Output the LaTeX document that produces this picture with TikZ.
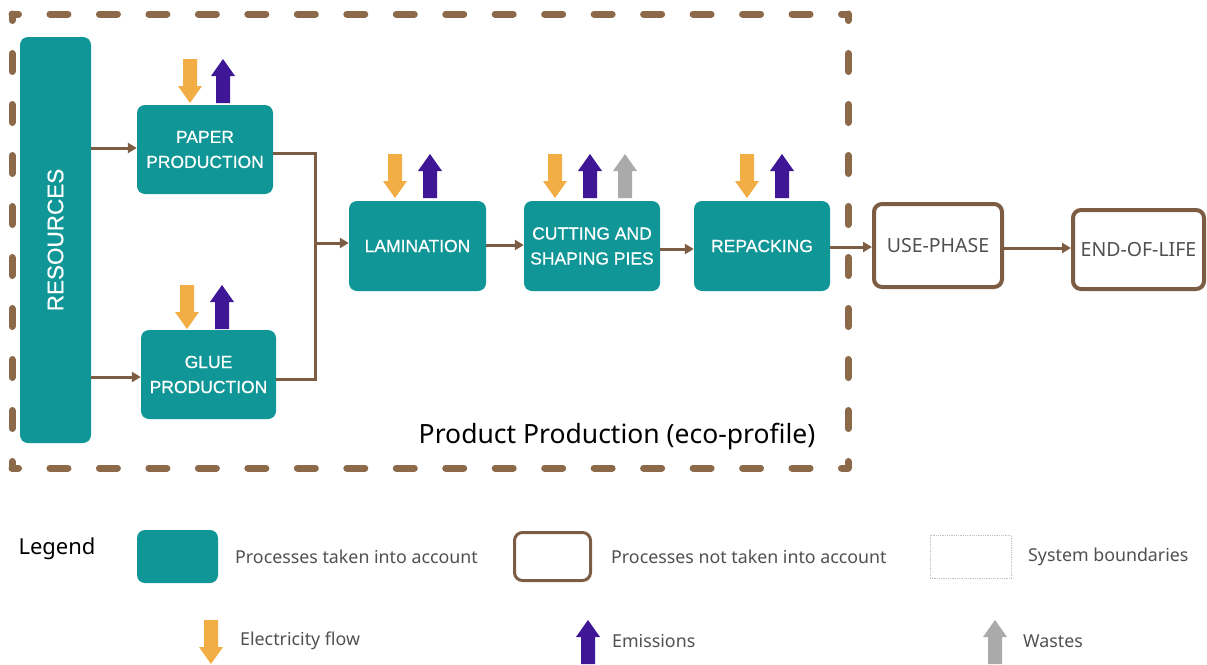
\documentclass[tikz,border=0pt]{standalone}
\usepackage{fontspec}
\setmainfont{Liberation Sans}
\newfontfamily\nsans{Noto Sans}
\newfontfamily\boxfont[FakeBold=0.6]{Liberation Sans}
\usetikzlibrary{arrows.meta}
\definecolor{tealc}{RGB}{16,150,150}
\definecolor{brownb}{RGB}{125,92,68}
\definecolor{brownd}{RGB}{139,105,73}
\definecolor{orangef}{RGB}{242,174,69}
\definecolor{purplef}{RGB}{62,22,150}
\definecolor{grayf}{RGB}{170,170,170}
\definecolor{txtgray}{RGB}{80,80,80}
\newcommand\flowdown[3]{\fill[#3] ({#1-7},#2) -- ({#1+7},#2) -- ({#1+7},{#2+27}) -- ({#1+12},{#2+27}) -- (#1,{#2+44}) -- ({#1-12},{#2+27}) -- ({#1-7},{#2+27}) -- cycle;}
\newcommand\flowup[3]{\fill[#3] ({#1-7},{#2+44}) -- ({#1+7},{#2+44}) -- ({#1+7},{#2+17}) -- ({#1+12},{#2+17}) -- (#1,#2) -- ({#1-12},{#2+17}) -- ({#1-7},{#2+17}) -- cycle;}
\tikzset{
  proc/.style={fill=tealc, rounded corners=8pt, text=white, align=center, inner sep=0pt,
    font=\boxfont\fontsize{17.5}{25}\selectfont},
  notproc/.style={draw=brownb, line width=4pt, fill=white, rounded corners=8pt, text=txtgray,
    align=center, inner sep=0pt, font=\nsans\fontsize{19.5}{22}\selectfont},
  conn/.style={draw=brownb, line width=3pt, -{Triangle[length=9pt,width=10pt]}},
  legtxt/.style={anchor=west, text=txtgray, inner sep=0pt, font=\nsans\fontsize{17.8}{20}\selectfont},
  bnd/.style={brownd, line width=7pt, line cap=round},
}
\begin{document}
\begin{tikzpicture}[x=1pt,y=-1pt]
\useasboundingbox (0,0) rectangle (1207,664);
% system boundary
\coordinate (b1) at (12,14);
\coordinate (b2) at (848,14);
\coordinate (b3) at (848,468);
\coordinate (b4) at (12,468);
\draw[bnd, dash pattern=on 18pt off 31.47pt, dash phase=11.5pt] (b1) -- (b2);
\draw[bnd, dash pattern=on 18pt off 31.47pt, dash phase=11.5pt] (b4) -- (b3);
\draw[bnd, dash pattern=on 18pt off 33pt, dash phase=11.5pt] (b1) -- (b4);
\draw[bnd, dash pattern=on 18pt off 33pt, dash phase=11.5pt] (b2) -- (b3);
% nodes
\node[proc, minimum width=71pt, minimum height=406pt] (res) at (55.5,240) {};
\node[text=white, rotate=90, font=\boxfont\fontsize{22.5}{24}\selectfont] (restxt) at (res.center) {RESOURCES};
\node[proc, minimum width=136pt, minimum height=89pt] (paper) at (205,149.5) {PAPER\\PRODUCTION};
\node[proc, minimum width=135pt, minimum height=89pt] (glue) at (208.5,374.5) {GLUE\\PRODUCTION};
\node[proc, minimum width=137pt, minimum height=90pt] (lam) at (417.5,246) {LAMINATION};
\node[proc, minimum width=136pt, minimum height=90pt] (cut) at (592,246) {CUTTING AND\\SHAPING PIES};
\node[proc, minimum width=136pt, minimum height=90pt] (rep) at (762,246) {REPACKING};
\node[notproc, minimum width=128pt, minimum height=83pt] (use) at (938,245.5) {USE-PHASE};
\node[notproc, minimum width=131pt, minimum height=79pt] (eol) at (1138.5,249.5) {END-OF-LIFE};
\node[font=\nsans\fontsize{26.5}{30}\selectfont, text=black] (title) at (617,437) {Product Production (eco-profile)};
% connectors
\coordinate (j) at (315,243);
\draw[conn] (res.east |- 0,148) -- (paper.west |- 0,148);
\draw[conn] (res.east |- 0,377) -- (glue.west |- 0,377);
\draw[draw=brownb, line width=3pt] (paper.east |- 0,153) -| (j);
\draw[draw=brownb, line width=3pt] (glue.east |- 0,379) -| (j);
\draw[conn] (j) -- (lam.west |- j);
\draw[conn] (lam.east |- 0,245) -- (cut.west |- 0,245);
\draw[conn] (cut.east |- 0,249) -- (rep.west |- 0,249);
\draw[conn] (rep.east |- 0,247) -- (use.west |- 0,247);
\draw[conn] (use.east |- 0,248) -- (eol.west |- 0,248);
% flows
\flowdown{190}{59}{orangef}\flowup{223}{59}{purplef}
\flowdown{187}{285}{orangef}\flowup{222}{285}{purplef}
\flowdown{395}{154}{orangef}\flowup{430}{154}{purplef}
\flowdown{555}{154}{orangef}\flowup{590}{154}{purplef}\flowup{625}{154}{grayf}
\flowdown{747}{154}{orangef}\flowup{782}{154}{purplef}
% legend
\node[font=\nsans\fontsize{22}{24}\selectfont, text=black] (legend) at (57,549) {Legend};
\node[proc, minimum width=81pt, minimum height=53pt] (l1) at (177.5,556.5) {};
\node[legtxt] (l1t) at (235,557) {Processes taken into account};
\node[notproc, line width=3pt, minimum width=76pt, minimum height=48pt] (l2) at (552.5,556.5) {};
\node[legtxt] (l2t) at (611,557) {Processes not taken into account};
\node[draw=grayf!70, densely dotted, line width=0.8pt, minimum width=81pt, minimum height=43pt, inner sep=0pt] (l3) at (970.5,556.5) {};
\node[legtxt] (l3t) at (1028,557) {System boundaries};
\flowdown{211}{620}{orangef}
\node[legtxt] (l4t) at (240,641) {Electricity flow};
\flowup{588}{620}{purplef}
\node[legtxt] (l5t) at (612,641) {Emissions};
\flowup{995}{620}{grayf}
\node[legtxt] (l6t) at (1023,641) {Wastes};
\end{tikzpicture}
\end{document}
